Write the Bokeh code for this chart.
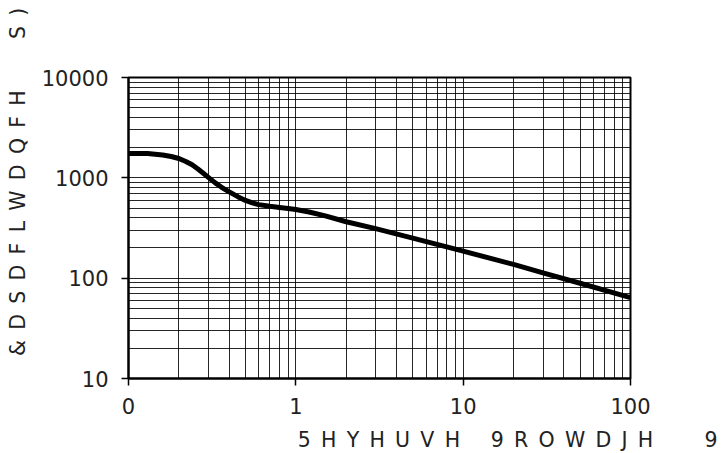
from bokeh.plotting import figure
from bokeh.models import FixedTicker
from bokeh.embed import file_html
from bokeh.resources import INLINE

# ---- data ----
voltage = [0.1, 0.13, 0.16, 0.18, 0.2, 0.22, 0.24, 0.26, 0.28, 0.3, 0.33, 0.36, 0.4, 0.45,
           0.5, 0.55, 0.6, 0.7, 0.8, 0.9, 1, 1.2, 1.5, 2, 3, 5, 10, 20, 30, 50, 100]
capacitance = [1750, 1745, 1690, 1633, 1560, 1455, 1349, 1225, 1112, 1012, 891, 805, 724, 649,
               596, 562, 541, 520, 507, 495, 483, 457, 417, 365, 312, 251, 186, 137, 113, 89, 64]

x_ticks = [0.1, 1, 10, 100]
x_tick_labels = ["0", "1", "10", "100"]
y_ticks = [10, 100, 1000, 10000]
y_tick_labels = ["10", "100", "1000", "10000"]

EN = "\u2002"
x_title = EN.join("5HYHUVH") + EN * 3 + EN.join("9ROWDJH") + EN * 5 + "9"
y_title = EN.join("&DSDFLWDQFH") + EN * 5 + "S" + EN + ")"

FONT = "DejaVu Sans"

x_minor = [m * d for d in [0.1, 1, 10] for m in range(2, 10)]
y_minor = [m * d for d in [10, 100, 1000] for m in range(2, 10)]

p = figure(x_axis_type="log", y_axis_type="log",
           x_range=(0.1, 100), y_range=(10, 10000),
           frame_width=502, frame_height=301,
           min_border_left=128, min_border_right=92,
           min_border_top=77, min_border_bottom=67,
           output_backend="svg", toolbar_location=None)

p.background_fill_color = "white"
p.border_fill_color = "white"
p.outline_line_color = "black"
p.outline_line_width = 2

p.xaxis.ticker = FixedTicker(ticks=x_ticks, minor_ticks=x_minor)
p.yaxis.ticker = FixedTicker(ticks=y_ticks, minor_ticks=y_minor)
p.xaxis.major_label_overrides = {0.1: x_tick_labels[0], 1: x_tick_labels[1],
                                 10: x_tick_labels[2], 100: x_tick_labels[3]}
p.yaxis.major_label_overrides = {t: l for t, l in zip(y_ticks, y_tick_labels)}

for ax in (p.xaxis, p.yaxis):
    ax.axis_line_color = "black"
    ax.axis_line_width = 2
    ax.major_tick_line_color = "black"
    ax.major_tick_line_width = 1.5
    ax.major_tick_out = 7
    ax.major_tick_in = 0
    ax.minor_tick_out = 0
    ax.minor_tick_in = 0
    ax.major_label_text_font = FONT
    ax.major_label_text_font_size = "21px"
    ax.major_label_text_color = "#222222"
    ax.axis_label_text_font = FONT
    ax.axis_label_text_font_size = "20.5px"
    ax.axis_label_text_font_style = "normal"
    ax.axis_label_text_color = "#222222"
p.yaxis.major_label_standoff = 13
p.xaxis.major_label_standoff = 12

p.xaxis.axis_label = EN * 25 + x_title
p.xaxis.axis_label_standoff = 11
p.yaxis.axis_label = EN * 9 + y_title
p.yaxis.axis_label_standoff = 9

for g in (p.xgrid, p.ygrid):
    g.grid_line_color = "black"
    g.grid_line_alpha = 0.85
    g.grid_line_width = 1
    g.minor_grid_line_color = "black"
    g.minor_grid_line_alpha = 0.85
    g.minor_grid_line_width = 1

p.line(voltage, capacitance, line_color="black", line_width=5, line_join="round")

open("out.html", "w").write(file_html(p, INLINE))
